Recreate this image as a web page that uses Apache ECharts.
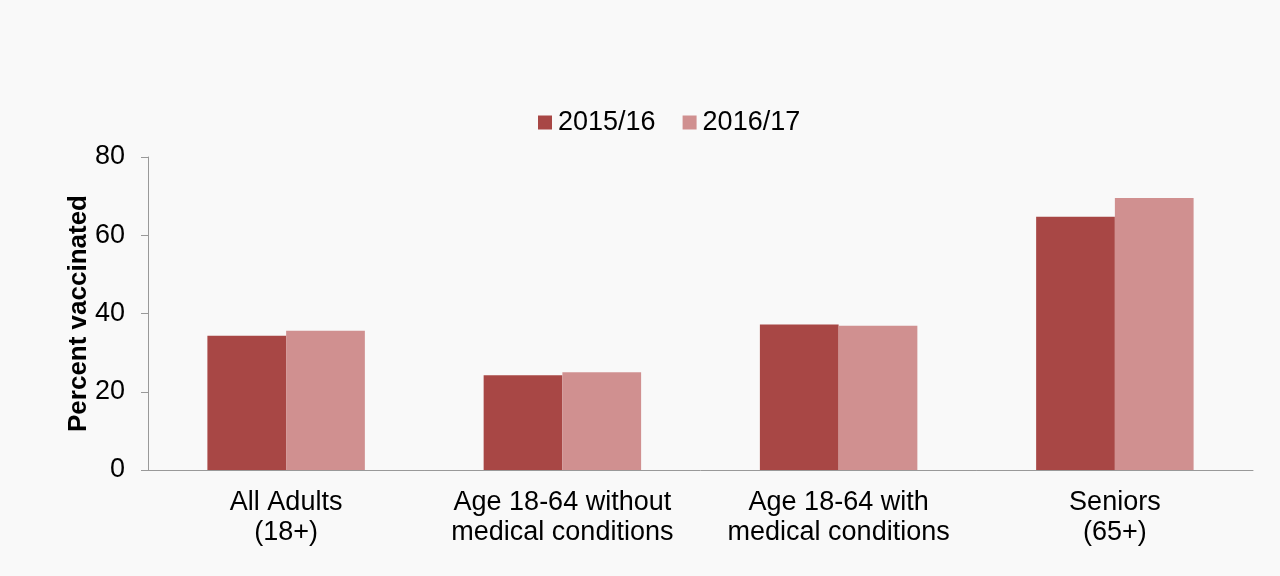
<!DOCTYPE html>
<html>
<head>
<meta charset="utf-8">
<script src="https://cdn.jsdelivr.net/npm/echarts@6/dist/echarts.min.js"></script>
<style>
html,body{margin:0;padding:0;background:#f9f9f9;}
#chart{width:1280px;height:576px;}
</style>
</head>
<body>
<div id="chart"></div>
<script>
var categories = ['All Adults\n(18+)', 'Age 18-64 without\nmedical conditions', 'Age 18-64 with\nmedical conditions', 'Seniors\n(65+)'];
var seriesNames = ['2015/16', '2016/17'];
var values2015 = [34.3, 24.2, 37.2, 64.7];
var values2016 = [35.6, 25.0, 36.9, 69.5];
var yTicks = [0, 20, 40, 60, 80];

var chart = echarts.init(document.getElementById('chart'));
var font = 'Liberation Sans, Arial, sans-serif';
chart.setOption({
  backgroundColor: '#f9f9f9',
  animation: false,
  legend: {
    top: 104,
    left: 533,
    itemWidth: 14,
    itemHeight: 14,
    itemGap: 27,
    icon: 'rect',
    textStyle: {fontFamily: font, fontSize: 27, color: '#000', padding: [0, 0, 0, 1]},
    data: seriesNames
  },
  grid: {left: 148, right: 27, top: 157, bottom: 106, containLabel: false},
  xAxis: {
    type: 'category',
    data: categories,
    axisLine: {lineStyle: {color: '#999', width: 1}},
    axisTick: {show: false},
    axisLabel: {fontFamily: font, fontSize: 27, color: '#000', lineHeight: 30, margin: 18, interval: 0}
  },
  yAxis: {
    type: 'value',
    min: yTicks[0],
    max: yTicks[yTicks.length - 1],
    interval: 20,
    name: 'Percent vaccinated',
    nameLocation: 'middle',
    nameGap: 56,
    nameMoveOverlap: false,
    nameRotate: 90,
    nameTextStyle: {fontFamily: font, fontSize: 26, fontWeight: 'bold', color: '#000'},
    axisLine: {show: true, lineStyle: {color: '#999', width: 1}},
    axisTick: {show: true, length: 7, lineStyle: {color: '#999'}},
    splitLine: {show: false},
    axisLabel: {fontFamily: font, fontSize: 27, color: '#000', margin: 23}
  },
  series: [
    {name: seriesNames[0], type: 'bar', data: values2015, barGap: '0%', barCategoryGap: '43%', itemStyle: {color: '#a84745'}},
    {name: seriesNames[1], type: 'bar', data: values2016, barGap: '0%', barCategoryGap: '43%', itemStyle: {color: '#d09090'}}
  ]
});
</script>
</body>
</html>
